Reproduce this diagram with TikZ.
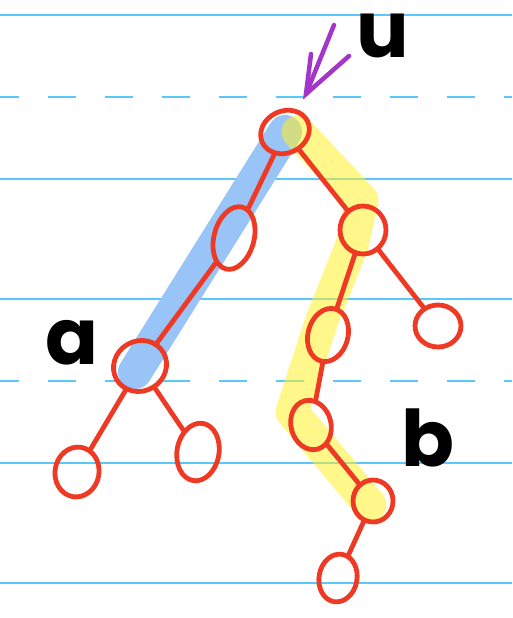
\documentclass[tikz,border=0pt]{standalone}
\usepackage{fontspec}
\setmainfont{Poppins}
\usetikzlibrary{shapes.geometric}
\definecolor{paper}{HTML}{5AC8FA}
\definecolor{hlblue}{HTML}{99C4F8}
\definecolor{hlyellow}{RGB}{255,240,40}
\definecolor{treered}{HTML}{EE3A24}
\definecolor{arrowpurple}{HTML}{A335C8}
\tikzset{
  ruled/.style={draw=paper, line width=1.7pt},
  ruleddash/.style={ruled, dash pattern=on 28pt off 29pt, dash phase=9pt},
  tnode/.style={ellipse, draw=treered, line width=4.8pt, inner sep=0pt},
  tedge/.style={draw=treered, line width=4.8pt, line cap=round},
  label/.style={inner sep=0pt, font=\fontsize{78}{78}\selectfont\bfseries, text=black},
  hlb/.style={draw=hlblue, line width=34pt, line cap=round, line join=round},
  hly/.style={draw=hlyellow, draw opacity=0.55, line width=33pt, line cap=round, line join=round},
  arr/.style={draw=arrowpurple, line width=4.5pt, line cap=round}
}
\begin{document}
\begin{tikzpicture}[x=1pt,y=-1pt]
\useasboundingbox (0,0) rectangle (512,618);
% paper lines
\foreach \yy in {15,179,299,463,583} {\draw[ruled] (0,\yy) -- (512,\yy);}
\foreach \yy in {97,381} {\draw[ruleddash] (0,\yy) -- (512,\yy);}
% highlights
\draw[hlb] (285,132) -- (135,372);
\draw[hly] (298,132) -- (362,200) -- (352,245) -- (322,320) -- (292,412) -- (370,505);
% tree nodes
\node[tnode, minimum width=50pt, minimum height=42pt, rotate=25] (r) at (285,132) {};
\node[tnode, minimum width=40pt, minimum height=64pt, rotate=-15] (lc) at (234,238) {};
\node[tnode, minimum width=54pt, minimum height=50pt, rotate=30] (a) at (140,366) {};
\node[tnode, minimum width=44pt, minimum height=50pt, rotate=-10] (la) at (77,472) {};
\node[tnode, minimum width=42pt, minimum height=58pt, rotate=-10] (ra) at (198,452) {};
\node[tnode, minimum width=46pt, minimum height=48pt] (rc) at (363,230) {};
\node[tnode, minimum width=46pt, minimum height=42pt] (rr) at (438,326) {};
\node[tnode, minimum width=40pt, minimum height=54pt, rotate=-15] (rl) at (328,335) {};
\node[tnode, minimum width=40pt, minimum height=50pt, rotate=15] (n4) at (311,425) {};
\node[tnode, minimum width=40pt, minimum height=42pt] (n5) at (373,501) {};
\node[tnode, minimum width=38pt, minimum height=48pt, rotate=-10] (n6) at (338,578) {};
% edges
\draw[tedge] (r) -- (lc);
\draw[tedge] (r) -- (rc);
\draw[tedge] (lc) -- (a);
\draw[tedge] (a) -- (la);
\draw[tedge] (a) -- (ra);
\draw[tedge] (rc) -- (rl);
\draw[tedge] (rc) -- (rr);
\draw[tedge] (rl) -- (n4);
\draw[tedge] (n4) -- (n5);
\draw[tedge] (n5) -- (n6);
% arrow to root
\coordinate (tail) at (334,25);
\coordinate (tip) at (306,94);
\coordinate (h1) at (311,54);
\coordinate (h2) at (349,56);
\draw[arr] (tail) -- (tip);
\draw[arr] (h1) -- (tip) -- (h2);
% labels
\node[label] (lu) at (383,36) {u};
\node[label] (la2) at (72,343) {a};
\node[label] (lb) at (428,438) {b};
\end{tikzpicture}
\end{document}
